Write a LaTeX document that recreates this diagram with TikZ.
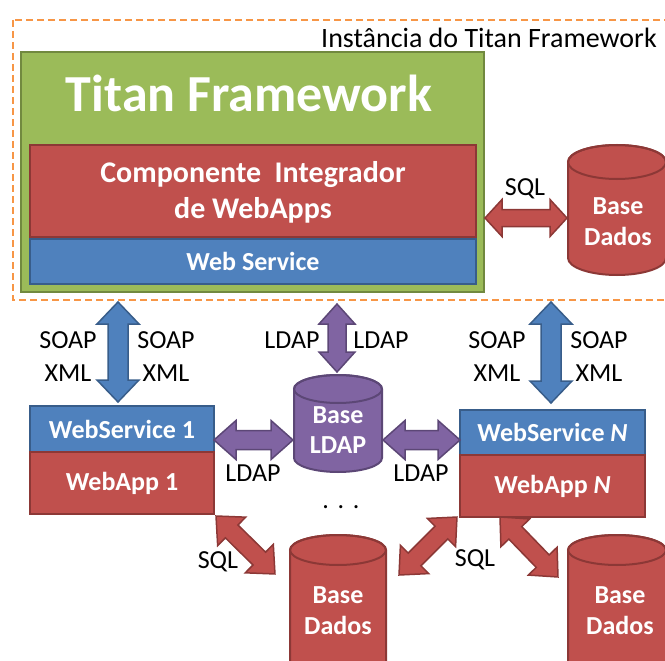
\documentclass[tikz,border=0pt]{standalone}
\usepackage{fontspec}
\setmainfont{Carlito}
\usetikzlibrary{calc}
\definecolor{oorange}{HTML}{F79646}
\definecolor{ogreen}{HTML}{9BBB59}
\definecolor{ogreenD}{HTML}{71893F}
\definecolor{ored}{HTML}{C0504D}
\definecolor{oredD}{HTML}{8C3836}
\definecolor{oblue}{HTML}{4F81BD}
\definecolor{oblueD}{HTML}{385D8A}
\definecolor{opurple}{HTML}{8064A2}
\definecolor{opurpleD}{HTML}{5C4776}
\tikzset{
  boxstyle/.style={rectangle, draw, line width=2pt, inner sep=0pt},
  btxt/.style={text=white, font=\bfseries\fontsize{26}{31}\selectfont, align=center},
  lbl/.style={font=\fontsize{26}{31}\selectfont, text height=16.5pt, text depth=0pt, inner sep=0pt},
  fatblue/.style={fill=oblue, draw=oblueD, line width=1.5pt, line join=miter},
  fatpurple/.style={fill=opurple, draw=opurpleD, line width=1.5pt, line join=miter},
  fatred/.style={fill=ored, draw=oredD, line width=1.5pt, line join=miter},
}
% #1 style, #2 from, #3 to, #4 head length, #5 head half width, #6 shaft half width
\newcommand\fatarrow[6]{%
  \path let \p1=(#2), \p2=(#3) in \pgfextra{%
    \pgfmathsetmacro\faA{atan2(\y2-\y1,\x2-\x1)}%
    \pgfmathsetmacro\faL{veclen(\x2-\x1,\y2-\y1)}%
    \xdef\faA{\faA}\xdef\faL{\faL}\xdef\faX{\x1}\xdef\faY{\y1}};
  \begin{scope}[shift={(\faX,\faY)},rotate=\faA]
    \draw[#1] (0pt,0pt) -- (#4pt,#5pt) -- (#4pt,#6pt) -- ({(\faL-#4)*1pt},#6pt)
      -- ({(\faL-#4)*1pt},#5pt) -- ({\faL*1pt},0pt) -- ({(\faL-#4)*1pt},-#5pt)
      -- ({(\faL-#4)*1pt},-#6pt) -- (#4pt,-#6pt) -- (#4pt,-#5pt) -- cycle;
  \end{scope}}
% #1 cx, #2 ytop, #3 ybot, #4 rx, #5 ry, #6 fill, #7 draw
\newcommand\dbcyl[7]{%
  \draw[fill=#6, draw=#7, line width=2pt] (#1-#4,#2+#5) -- (#1-#4,#3-#5)
    arc[start angle=180,end angle=360,x radius=#4pt,y radius=#5pt]
    -- (#1+#4,#2+#5) arc[start angle=0,end angle=180,x radius=#4pt,y radius=#5pt] -- cycle;
  \draw[draw=#7, line width=2pt] (#1,#2+#5) ellipse[x radius=#4pt, y radius=#5pt];}
\begin{document}
\begin{tikzpicture}[x=1pt,y=-1pt]
\useasboundingbox (0,0) rectangle (665,661);
\clip (0,0) rectangle (665,661);
% instance frame
\draw[oorange, line width=2.5pt, dash pattern=on 7pt off 4pt] (13,20) rectangle (700,300);
\node[anchor=base east, font=\fontsize{28}{32}\selectfont, inner sep=0pt] (inst) at (657,48) {Instância do Titan Framework};
% framework
\node[boxstyle, fill=ogreen, draw=ogreenD, minimum width=463pt, minimum height=240pt] (fw) at (252,172) {};
\node[anchor=base, text=white, font=\bfseries\fontsize{52}{60}\selectfont, inner sep=0pt] (fwtitle) at (249,112) {Titan Framework};
\node[boxstyle, fill=ored, draw=oredD, minimum width=446pt, minimum height=92pt] (cint) at (253,191) {};
\node[btxt, font=\bfseries\fontsize{30}{36}\selectfont] (cinttxt) at (253,192) {Componente\ \ Integrador\\de WebApps};
\node[boxstyle, fill=oblue, draw=oblueD, minimum width=446pt, minimum height=45pt, btxt] (ws) at (253,261.5) {Web Service};
% top database
\dbcyl{617}{145}{275}{49}{17}{ored}{oredD}
\node[btxt] (db0) at (618,222) {Base\\Dados};
\coordinate (sqlA) at (485,218);
\coordinate (sqlB) at (567,218);
\fatarrow{fatred}{sqlA}{sqlB}{17}{18.5}{8.5}
\node[lbl] (sql0) at (525,187) {SQL};
% webservice 1 / webapp 1
\node[boxstyle, fill=oblue, draw=oblueD, minimum width=184pt, minimum height=46pt, btxt] (ws1) at (122,429) {WebService 1};
\node[boxstyle, fill=ored, draw=oredD, minimum width=184pt, minimum height=62pt, btxt] (wa1) at (122,483) {WebApp 1};
% webservice N / webapp N
\node[boxstyle, fill=oblue, draw=oblueD, minimum width=185pt, minimum height=45pt, btxt] (wsN) at (552.5,432.5) {WebService \textit{N}};
\node[boxstyle, fill=ored, draw=oredD, minimum width=185pt, minimum height=62pt, btxt] (waN) at (552.5,486) {WebApp \textit{N}};
% LDAP base
\dbcyl{338}{375}{472}{44}{14}{opurple}{opurpleD}
\node[btxt, font=\bfseries\fontsize{26}{30}\selectfont] (ldap) at (338,430) {Base\\LDAP};
% bottom databases
\dbcyl{338}{535}{700}{48}{15}{ored}{oredD}
\node[btxt] (db1) at (338,611) {Base\\Dados};
\dbcyl{617}{535}{700}{49}{15}{ored}{oredD}
\node[btxt] (db2) at (620,611) {Base\\Dados};
% vertical arrows
\coordinate (bl1) at (118,302); \coordinate (bl2) at (118,402);
\fatarrow{fatblue}{bl1}{bl2}{22}{21}{10}
\coordinate (br1) at (551,302); \coordinate (br2) at (551,403);
\fatarrow{fatblue}{br1}{br2}{22}{21}{10}
\coordinate (pt1) at (337,304); \coordinate (pt2) at (337,372);
\fatarrow{fatpurple}{pt1}{pt2}{20}{18}{9}
% horizontal LDAP arrows
\coordinate (pl1) at (214,440); \coordinate (pl2) at (293,440);
\fatarrow{fatpurple}{pl1}{pl2}{22}{19.5}{9.5}
\coordinate (pr1) at (383,440); \coordinate (pr2) at (460,440);
\fatarrow{fatpurple}{pr1}{pr2}{22}{19.5}{9.5}
% diagonal SQL arrows
\coordinate (d1a) at (216,516); \coordinate (d1b) at (275,574);
\fatarrow{fatred}{d1a}{d1b}{22}{20}{9}
\coordinate (d2a) at (399,575); \coordinate (d2b) at (457,517);
\fatarrow{fatred}{d2a}{d2b}{22}{20}{9}
\coordinate (d3a) at (500,517); \coordinate (d3b) at (558,577);
\fatarrow{fatred}{d3a}{d3b}{22}{20}{9}
% labels
\node[lbl] (s1) at (68,340) {SOAP};
\node[lbl] (x1) at (68,373) {XML};
\node[lbl] (s2) at (166,340) {SOAP};
\node[lbl] (x2) at (166,373) {XML};
\node[lbl] (l1) at (292,340) {LDAP};
\node[lbl] (l2) at (381,340) {LDAP};
\node[lbl] (s3) at (497,340) {SOAP};
\node[lbl] (x3) at (497,373) {XML};
\node[lbl] (s4) at (599,340) {SOAP};
\node[lbl] (x4) at (599,373) {XML};
\node[lbl] (l3) at (253,473) {LDAP};
\node[lbl] (l4) at (421,473) {LDAP};
\node[lbl] (dots) at (341,500) {.\,\,.\,\,.};
\node[lbl] (q1) at (218,560) {SQL};
\node[lbl] (q2) at (475,558) {SQL};
\end{tikzpicture}
\end{document}
